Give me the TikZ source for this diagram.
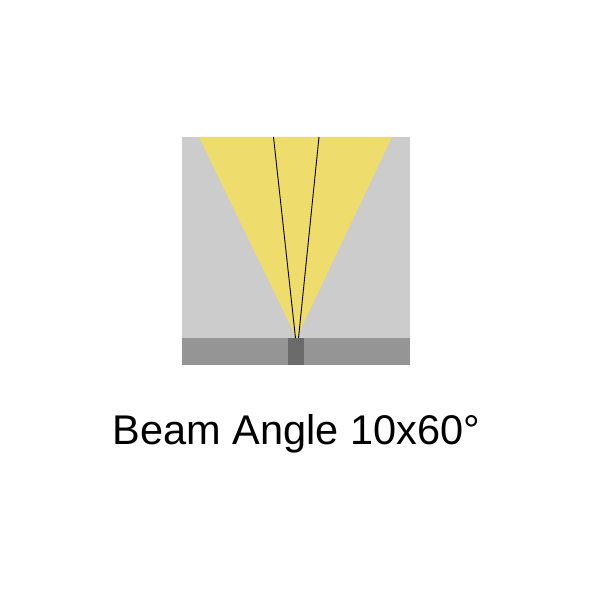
\documentclass[tikz,border=0pt]{standalone}
\usepackage{fontspec}
\setmainfont{Liberation Sans}
\usepackage{tikz}

\definecolor{wallgray}{RGB}{204,204,204}
\definecolor{basegray}{RGB}{149,149,149}
\definecolor{ledgray}{RGB}{107,107,107}
\definecolor{beamyellow}{RGB}{238,221,108}

\begin{document}
\begin{tikzpicture}[x=1pt,y=-1pt]
    \useasboundingbox (0,0) rectangle (592,591);

    % 背景
    \fill[wallgray] (182,137) rectangle (410,338);
    \fill[basegray] (182,338) rectangle (410,365);

    % 光の広がり
    \coordinate (apex) at (296.5,338);
    \fill[beamyellow] (199,137) -- (392,137) -- (apex) -- cycle;

    % LED
    \fill[ledgray] (288,338) rectangle (304,365);

    % 10度の線
    \coordinate (l1) at (273.5,137);
    \coordinate (r1) at (319,137);
    \draw[black,line width=0.9pt] (l1) -- (295.5,338);
    \draw[black,line width=0.9pt] (r1) -- (298.5,338);

    % ラベル
    \node[anchor=base,inner sep=0pt,font=\fontsize{41.5}{50}\selectfont] (label) at (296.5,444.5) {Beam Angle 10x60°};
\end{tikzpicture}
\end{document}
